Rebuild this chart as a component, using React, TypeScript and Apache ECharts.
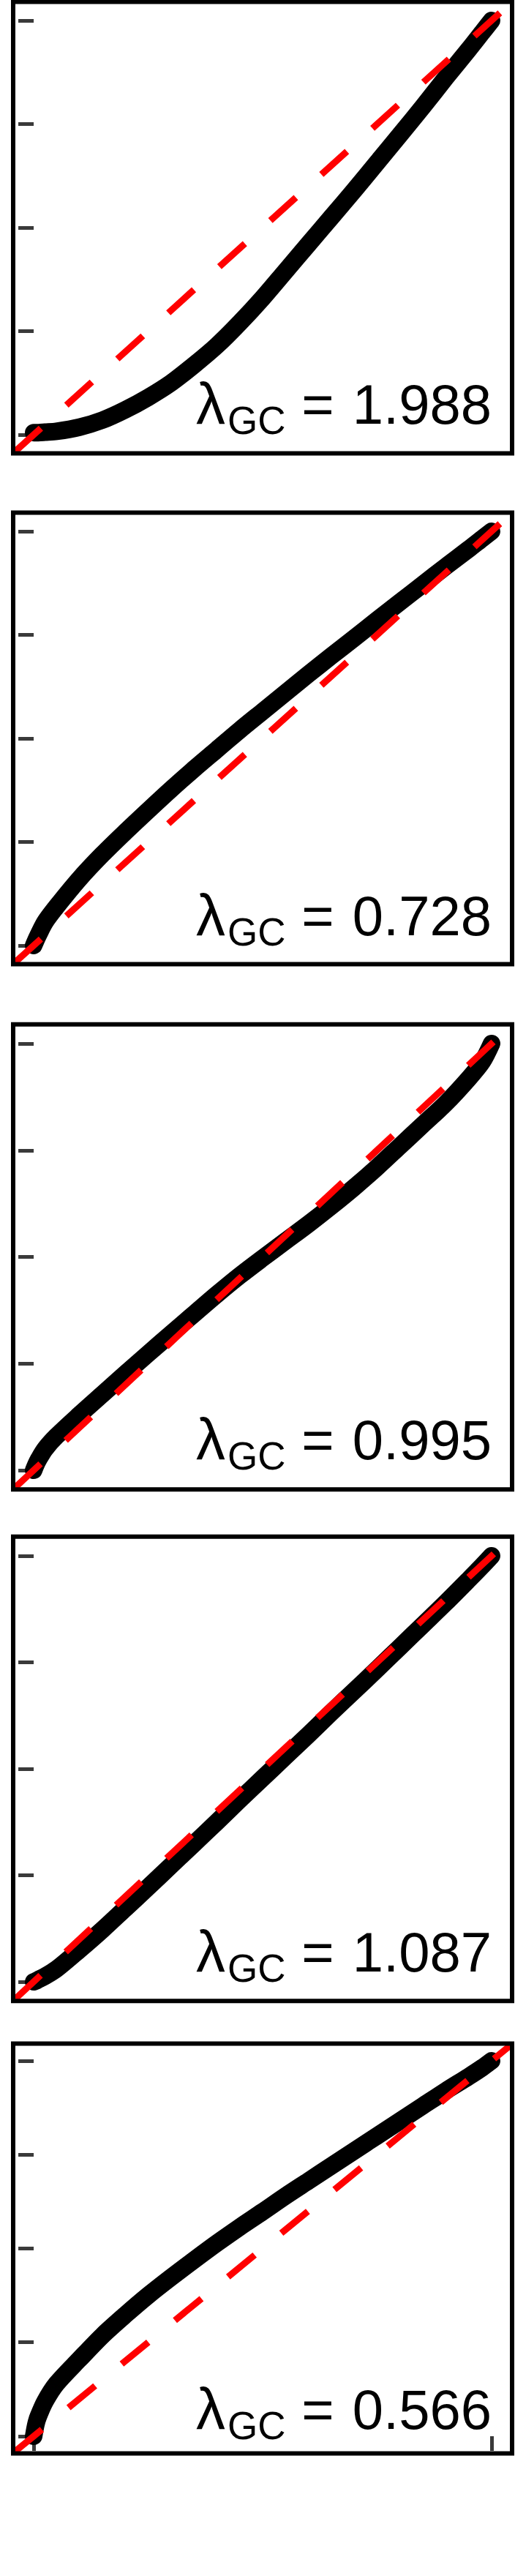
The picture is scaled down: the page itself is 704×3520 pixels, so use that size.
import React, { useEffect, useRef } from "react";
import * as echarts from "echarts";

// Expected p-value quantiles (x) shared by all panels
const EXPECTED = [0, 0.005, 0.01, 0.025, 0.05, 0.1, 0.15, 0.2, 0.25, 0.3, 0.35, 0.4, 0.45, 0.5, 0.55, 0.6, 0.65, 0.7, 0.75, 0.8, 0.85, 0.9, 0.95, 0.98, 1];

const OBS_1988 = [0.005, 0.005, 0.005, 0.006, 0.008, 0.018, 0.035, 0.06, 0.09, 0.125, 0.168, 0.215, 0.27, 0.33, 0.395, 0.46, 0.525, 0.59, 0.657, 0.724, 0.792, 0.862, 0.93, 0.972, 1.0];
const OBS_0728 = [0.0, 0.013, 0.025, 0.057, 0.094, 0.161, 0.22, 0.274, 0.326, 0.377, 0.426, 0.473, 0.52, 0.565, 0.61, 0.655, 0.699, 0.742, 0.786, 0.829, 0.872, 0.915, 0.957, 0.983, 1.0];
const OBS_0995 = [0.0, 0.013, 0.024, 0.05, 0.08, 0.13, 0.178, 0.226, 0.273, 0.32, 0.366, 0.412, 0.456, 0.497, 0.537, 0.577, 0.619, 0.663, 0.71, 0.76, 0.81, 0.86, 0.918, 0.958, 1.0];
const OBS_1087 = [0.0, 0.002, 0.005, 0.013, 0.03, 0.075, 0.122, 0.172, 0.222, 0.273, 0.324, 0.375, 0.427, 0.478, 0.529, 0.58, 0.632, 0.683, 0.734, 0.786, 0.838, 0.89, 0.944, 0.977, 1.0];
const OBS_0566 = [0.0, 0.032, 0.052, 0.093, 0.14, 0.205, 0.268, 0.323, 0.375, 0.423, 0.469, 0.514, 0.557, 0.598, 0.64, 0.68, 0.72, 0.76, 0.8, 0.84, 0.88, 0.92, 0.958, 0.982, 1.0];

const OBSERVED = [OBS_1988, OBS_0728, OBS_0995, OBS_1087, OBS_0566];
const LAMBDA_LABELS = ["1.988", "0.728", "0.995", "1.087", "0.566"];

const Y_TICKS = [0, 0.25, 0.5, 0.75, 1];
const X_TICKS = [0, 1];
const AXIS_MIN = -0.04;
const AXIS_MAX = 1.04;

// Layout (pixels)
const GRID_LEFT = 21;
const GRID_WIDTH = 676;
const PANEL_TOPS = [5.4, 703.4, 1402.7, 2102.7, 2795.5];
const PANEL_HEIGHTS = [611.2, 611.2, 629.6, 628.6, 554];
const LABEL_BASELINE_UP = [37.6, 36.6, 38.3, 37.3, 30.5];

const FONT = '"Liberation Sans", Arial, Helvetica, sans-serif';
const BIG = 76;
const SUB = 53;

function textEl(text: string, x: number, baseline: number, size: number, align: string) {
  const y = baseline - 0.347 * size;
  return {
    type: "text",
    x,
    y,
    z: 60,
    silent: true,
    style: {
      text,
      fontSize: size,
      fontFamily: FONT,
      fill: "#000",
      textAlign: align,
      textVerticalAlign: "middle",
      align,
      verticalAlign: "middle",
    },
  };
}

export default function App() {
  const ref = useRef<HTMLDivElement>(null);

  useEffect(() => {
    if (!ref.current) return;
    const chart = echarts.init(ref.current, null, { renderer: "svg" });

    const grids: any[] = [];
    const xAxes: any[] = [];
    const yAxes: any[] = [];
    const series: any[] = [];
    const graphics: any[] = [];

    OBSERVED.forEach((obs, i) => {
      const top = PANEL_TOPS[i];
      const h = PANEL_HEIGHTS[i];
      grids.push({ left: GRID_LEFT, width: GRID_WIDTH, top, height: h, containLabel: false, outerBoundsMode: "none" });
      const isLast = i === OBSERVED.length - 1;
      xAxes.push({
        gridIndex: i,
        type: "value",
        min: AXIS_MIN,
        max: AXIS_MAX,
        splitLine: { show: false },
        axisLine: { show: false },
        axisLabel: { show: false },
        axisTick: isLast
          ? { show: true, customValues: X_TICKS, length: 20, lineStyle: { color: "#3a3a3a", width: 5 } }
          : { show: false },
      });
      yAxes.push({
        gridIndex: i,
        type: "value",
        min: AXIS_MIN,
        max: AXIS_MAX,
        splitLine: { show: false },
        axisLine: { show: false },
        axisLabel: { show: false },
        axisTick: { show: true, customValues: Y_TICKS, length: 21, lineStyle: { color: "#3a3a3a", width: 5 } },
      });
      series.push({
        type: "line",
        xAxisIndex: i,
        yAxisIndex: i,
        data: EXPECTED.map((x, j) => [x, obs[j]]),
        showSymbol: false,
        smooth: 0.3,
        silent: true,
        z: 2,
        lineStyle: { color: "#000", width: 24, cap: "round", join: "round" },
      });
      series.push({
        type: "line",
        xAxisIndex: i,
        yAxisIndex: i,
        data: [
          [AXIS_MIN, AXIS_MIN],
          [AXIS_MAX, AXIS_MAX],
        ],
        showSymbol: false,
        silent: true,
        z: 3,
        lineStyle: { color: "#ff0000", width: 9, type: [47, 47], cap: "butt" },
      });

      graphics.push({
        type: "rect",
        z: 50,
        silent: true,
        shape: { x: GRID_LEFT - 3, y: top - 3, width: GRID_WIDTH + 6, height: h + 6 },
        style: { fill: "none", stroke: "#000", lineWidth: 6 },
      });

      const baseline = top + h - LABEL_BASELINE_UP[i];
      graphics.push(textEl("λ", 268, baseline, 80, "left"));
      graphics.push(textEl("GC", 311, baseline + 14, SUB, "left"));
      graphics.push(textEl("=", 434.5, baseline, BIG, "center"));
      graphics.push(textEl(LAMBDA_LABELS[i], 672, baseline, BIG, "right"));
    });

    chart.setOption({
      animation: false,
      backgroundColor: "#fff",
      grid: grids,
      xAxis: xAxes,
      yAxis: yAxes,
      series,
      graphic: graphics,
    });

    return () => {
      chart.dispose();
    };
  }, []);

  return (
    <div
      ref={ref}
      style={{ position: "absolute", left: 0, top: 0, width: 704, height: 3520 }}
    />
  );
}
